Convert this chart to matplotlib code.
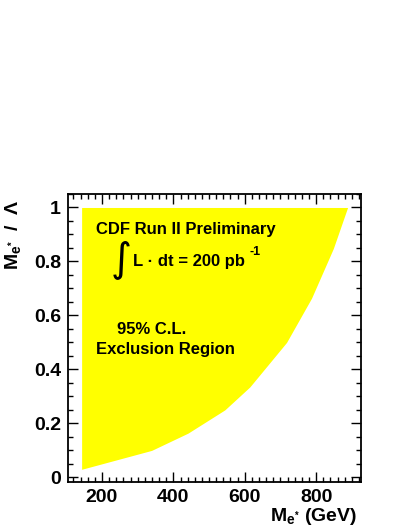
import matplotlib
matplotlib.use('Agg')
import matplotlib.pyplot as plt
from matplotlib.ticker import MultipleLocator

# exclusion region boundary (M_e* in GeV, M_e*/Lambda)
mass = [143, 339, 441, 544, 614, 717, 787, 848, 888]
ratio = [0.03, 0.10, 0.164, 0.25, 0.335, 0.50, 0.664, 0.848, 1.0]
top = 1.0

plt.rcParams['font.family'] = ['Liberation Sans', 'DejaVu Sans']
plt.rcParams['font.weight'] = 'bold'
plt.rcParams['mathtext.fontset'] = 'custom'
plt.rcParams['mathtext.rm'] = 'Liberation Sans:bold'
plt.rcParams['mathtext.it'] = 'Liberation Sans:bold'
plt.rcParams['mathtext.bf'] = 'Liberation Sans:bold'

fig = plt.figure(figsize=(4.1, 5.3), dpi=100)
ax = fig.add_axes([0.166, 0.0906, 0.714, 0.5434])

ax.fill_between(mass, ratio, [top] * len(mass), color='#ffff00', lw=0)

ax.set_xlim(105, 925)
ax.set_ylim(-0.017, 1.05)
ax.xaxis.set_major_locator(MultipleLocator(200))
ax.xaxis.set_minor_locator(MultipleLocator(20))
ax.yaxis.set_major_locator(MultipleLocator(0.2))
ax.yaxis.set_minor_locator(MultipleLocator(0.05))
ax.yaxis.set_major_formatter(plt.FuncFormatter(lambda v, p: '%g' % round(v, 2)))
ax.tick_params(which='both', direction='in', top=True, right=True, labelsize=14, width=1)
ax.tick_params(which='major', length=7, pad=5)
ax.tick_params(which='minor', length=3.5)
for s in ax.spines.values():
    s.set_linewidth(1.3)

ax.text(183, 0.92, 'CDF Run II Preliminary', fontsize=12, va='center', ha='left')
ax.text(253, 0.81, '\u222b', fontsize=29, va='center', ha='center', family='DejaVu Sans', fontweight='normal')
ax.text(287, 0.80, 'L \u00b7 dt = 200 pb', fontsize=12, va='center', ha='left')
ax.text(614, 0.835, '-1', fontsize=9, va='center', ha='left')
ax.text(242, 0.547, '95% C.L.', fontsize=12, va='center', ha='left')
ax.text(183, 0.473, 'Exclusion Region', fontsize=12, va='center', ha='left')

fig.text(0.871, 0.025, r'$\mathregular{M_{e^{*}}}$ (GeV)', fontsize=14, ha='right', va='center')
fig.text(0.032, 0.558, r'$\mathregular{M_{e^{*}}}$  /  $\Lambda$', fontsize=14, ha='center', va='center', rotation=90)

fig.savefig('out.png', dpi=100)
